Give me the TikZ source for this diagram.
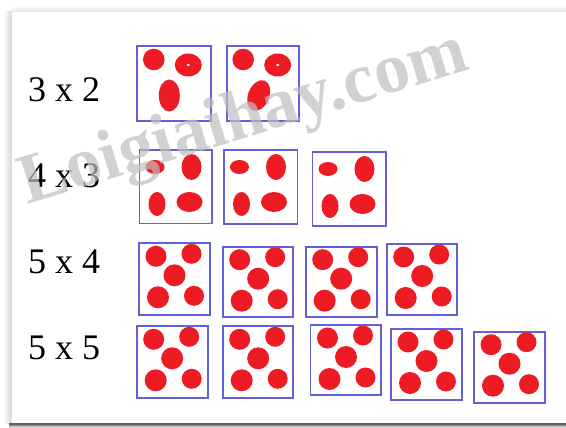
\documentclass[tikz,border=0pt]{standalone}
\usepackage{fontspec}
\setmainfont{Liberation Serif}
\definecolor{boxblue}{RGB}{98,98,214}
\definecolor{dotred}{RGB}{237,28,36}
\definecolor{wmgray}{RGB}{190,190,190}
\tikzset{
  boxline/.style={draw=boxblue,line width=1.8pt},
  reddot/.style={fill=dotred},
  lbl/.style={anchor=base west,inner sep=0pt,font=\fontsize{36}{36}\selectfont},
  wmark/.style={text=wmgray,opacity=0.7,inner sep=0pt,font=\fontsize{71}{71}\selectfont\bfseries}
}
\newcommand\FiveBox[4]{%
  \begin{scope}[shift={(#1,#2)}]
    \draw[boxline] (0,0) rectangle (#3-#1,#4-#2);
    \fill[reddot] (17,13) circle[radius=10.5] (52.5,10.5) circle[radius=10]
      (35.5,32) circle[radius=11] (19,54) circle[radius=11] (55,52.5) circle[radius=10];
  \end{scope}}
\newcommand\FourBox[4]{%
  \begin{scope}[shift={(#1,#2)}]
    \draw[boxline] (0,0) rectangle (#3-#1,#4-#2);
    \fill[reddot] (15.5,17) ellipse[x radius=9.5,y radius=7]
      (52,17) ellipse[x radius=10,y radius=13]
      (17.5,54) ellipse[x radius=8.5,y radius=12]
      (50,52) ellipse[x radius=13,y radius=10];
  \end{scope}}
\newcommand\ThreeBox[5]{%
  \begin{scope}[shift={(#1,#2)}]
    \draw[boxline] (0,0) rectangle (#3-#1,#4-#2);
    \fill[reddot] (16.5,13.5) circle[radius=10.8]
      (51,19) ellipse[x radius=13.5,y radius=11.5];
    \fill[white] (51,19) ellipse[x radius=1.8,y radius=1.2];
    \fill[reddot,rotate around={#5:(32,49.5)}] (32,49.5) ellipse[x radius=10.5,y radius=16];
  \end{scope}}
\begin{document}
\begin{tikzpicture}[x=1pt,y=-1pt]
  \useasboundingbox (0,0) rectangle (566,428);
  \fill[white] (0,0) rectangle (566,428);
  % panel shadow
  \shade[left color=white,right color=black!16] (3,12) rectangle (12,423);
  \shade[top color=white,bottom color=black!10] (12,5) rectangle (566,12);
  \fill[black!62] (9,423) rectangle (566,425.5);
  \shade[top color=black!35,bottom color=white] (9,425.5) rectangle (566,428);
  \fill[white] (12,12) rectangle (566,423);
  % labels
  \node[lbl] (l1) at (28,102) {3 x 2};
  \node[lbl] (l2) at (28,187) {4 x 3};
  \node[lbl] (l3) at (28,273) {5 x 4};
  \node[lbl] (l4) at (28,359.5) {5 x 5};
  % row 1
  \ThreeBox{137.3}{46}{210.7}{121}{0}
  \ThreeBox{226.7}{46}{299.3}{121}{-22}
  % row 2
  \FourBox{139.5}{150}{212}{223.5}
  \FourBox{224}{150}{297.5}{224}
  \FourBox{312.5}{152}{386}{226}
  % row 3
  \FiveBox{139}{243.3}{210}{315}
  \FiveBox{222.7}{246.7}{293.3}{316.7}
  \FiveBox{305.7}{246.7}{377.3}{316.7}
  \FiveBox{386.7}{244}{456.7}{315}
  % row 4
  \FiveBox{136.7}{326.3}{208.3}{398}
  \FiveBox{222.7}{326.3}{293.3}{398}
  \FiveBox{310.5}{325}{380.9}{395}
  \FiveBox{391}{329}{462}{400}
  \FiveBox{474}{331.7}{545}{402.7}
  % watermark
  \node[wmark,rotate=17] (wm) at (244,121) {Loigiaihay.com};
\end{tikzpicture}
\end{document}
